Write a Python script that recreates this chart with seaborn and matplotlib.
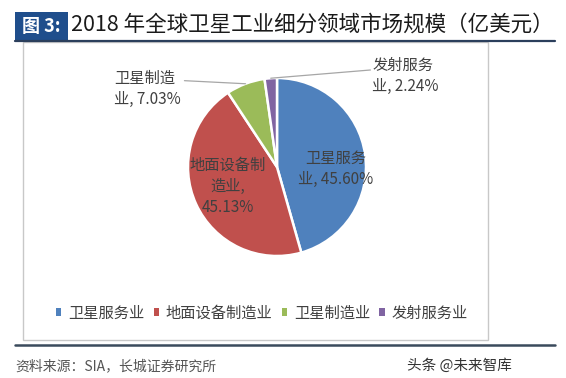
import numpy as np
import seaborn as sns
import matplotlib.pyplot as plt
from matplotlib.patches import Rectangle
from matplotlib.lines import Line2D

categories = ["卫星服务业", "地面设备制造业", "卫星制造业", "发射服务业"]
shares = [45.60, 45.13, 7.03, 2.24]
pie_labels = ["卫星服务\n业, 45.60%", "地面设备制\n造业,\n45.13%", "卫星制造\n业, 7.03%", "发射服务\n业, 2.24%"]
colors = ["#4F81BD", "#C0504D", "#9BBB59", "#8064A2"]

sns.set_theme(style="white")
plt.rcParams["font.family"] = ["Noto Sans CJK SC", "DejaVu Sans"]

W, H = 566, 378
fig = plt.figure(figsize=(W / 100, H / 100), dpi=100)
fig.patch.set_facecolor("white")

def fx(px):
    return px / W

def fy(py):
    return 1 - py / H

# title block
fig.patches.append(Rectangle((fx(15), fy(40)), fx(53), 28 / H, transform=fig.transFigure,
                             facecolor="#1F4E8C", edgecolor="none"))
fig.text(fx(41), fy(26), "图 3:", color="white", fontsize=13, fontweight="bold",
         ha="center", va="center")
fig.text(fx(71), fy(25), "2018 年全球卫星工业细分领域市场规模（亿美元）", color="#1a1a1a",
         fontsize=15.5, ha="left", va="center")
fig.lines.append(Line2D([fx(15), fx(555)], [fy(40.5), fy(40.5)], transform=fig.transFigure,
                        color="#2B3F5C", lw=1.6))

# chart frame
fig.patches.append(Rectangle((fx(23), fy(340)), fx(465), 298 / H, transform=fig.transFigure,
                             facecolor="none", edgecolor="#C8C8C8", lw=1))

# pie
cx, cy, r = 277, 167, 89
ax = fig.add_axes([fx(cx - 2.5 * r / 2), fy(cy + 2.5 * r / 2), 2.5 * r / W, 2.5 * r / H])
wedges, _ = ax.pie(shares, colors=colors, startangle=90, counterclock=False,
                   wedgeprops=dict(edgecolor="white", linewidth=1.8))

txt = dict(color="#404040", fontsize=11, linespacing=1.3)
ax.text(0.66, -0.02, pie_labels[0], ha="center", va="center", **txt)
ax.text(-0.55, -0.22, pie_labels[1], ha="center", va="center", **txt)
ax.text(-1.83, 0.88, pie_labels[2], ha="left", va="center", **txt)
ax.text(1.07, 1.02, pie_labels[3], ha="left", va="center", **txt)

# leader lines from wedge edge
for w, end in [(wedges[2], (-1.04, 0.97)), (wedges[3], (1.05, 1.09))]:
    ang = np.deg2rad((w.theta1 + w.theta2) / 2)
    ax.plot([np.cos(ang), end[0]], [np.sin(ang), end[1]], color="#A6A6A6", lw=0.9,
            clip_on=False)

# legend
handles = [Rectangle((0, 0), 1, 1, facecolor=c, edgecolor="none") for c in colors]
fig.legend(handles, categories, loc="center", bbox_to_anchor=(fx(262), fy(313)), ncol=4,
           frameon=False, fontsize=11, handlelength=0.35, handleheight=0.35,
           handletextpad=0.45, columnspacing=0.6, labelcolor="#404040")

# footer
fig.lines.append(Line2D([fx(15), fx(555)], [fy(345), fy(345)], transform=fig.transFigure,
                        color="#3A4A5C", lw=1.8))
fig.text(fx(15), fy(366), "资料来源：SIA，长城证券研究所", color="#555555", fontsize=10,
         style="italic", ha="left", va="center")
fig.text(fx(512), fy(366), "头条 @未来智库", color="#333333", fontsize=10.5,
         ha="right", va="center")

fig.savefig("out.png", dpi=100, facecolor="white")
